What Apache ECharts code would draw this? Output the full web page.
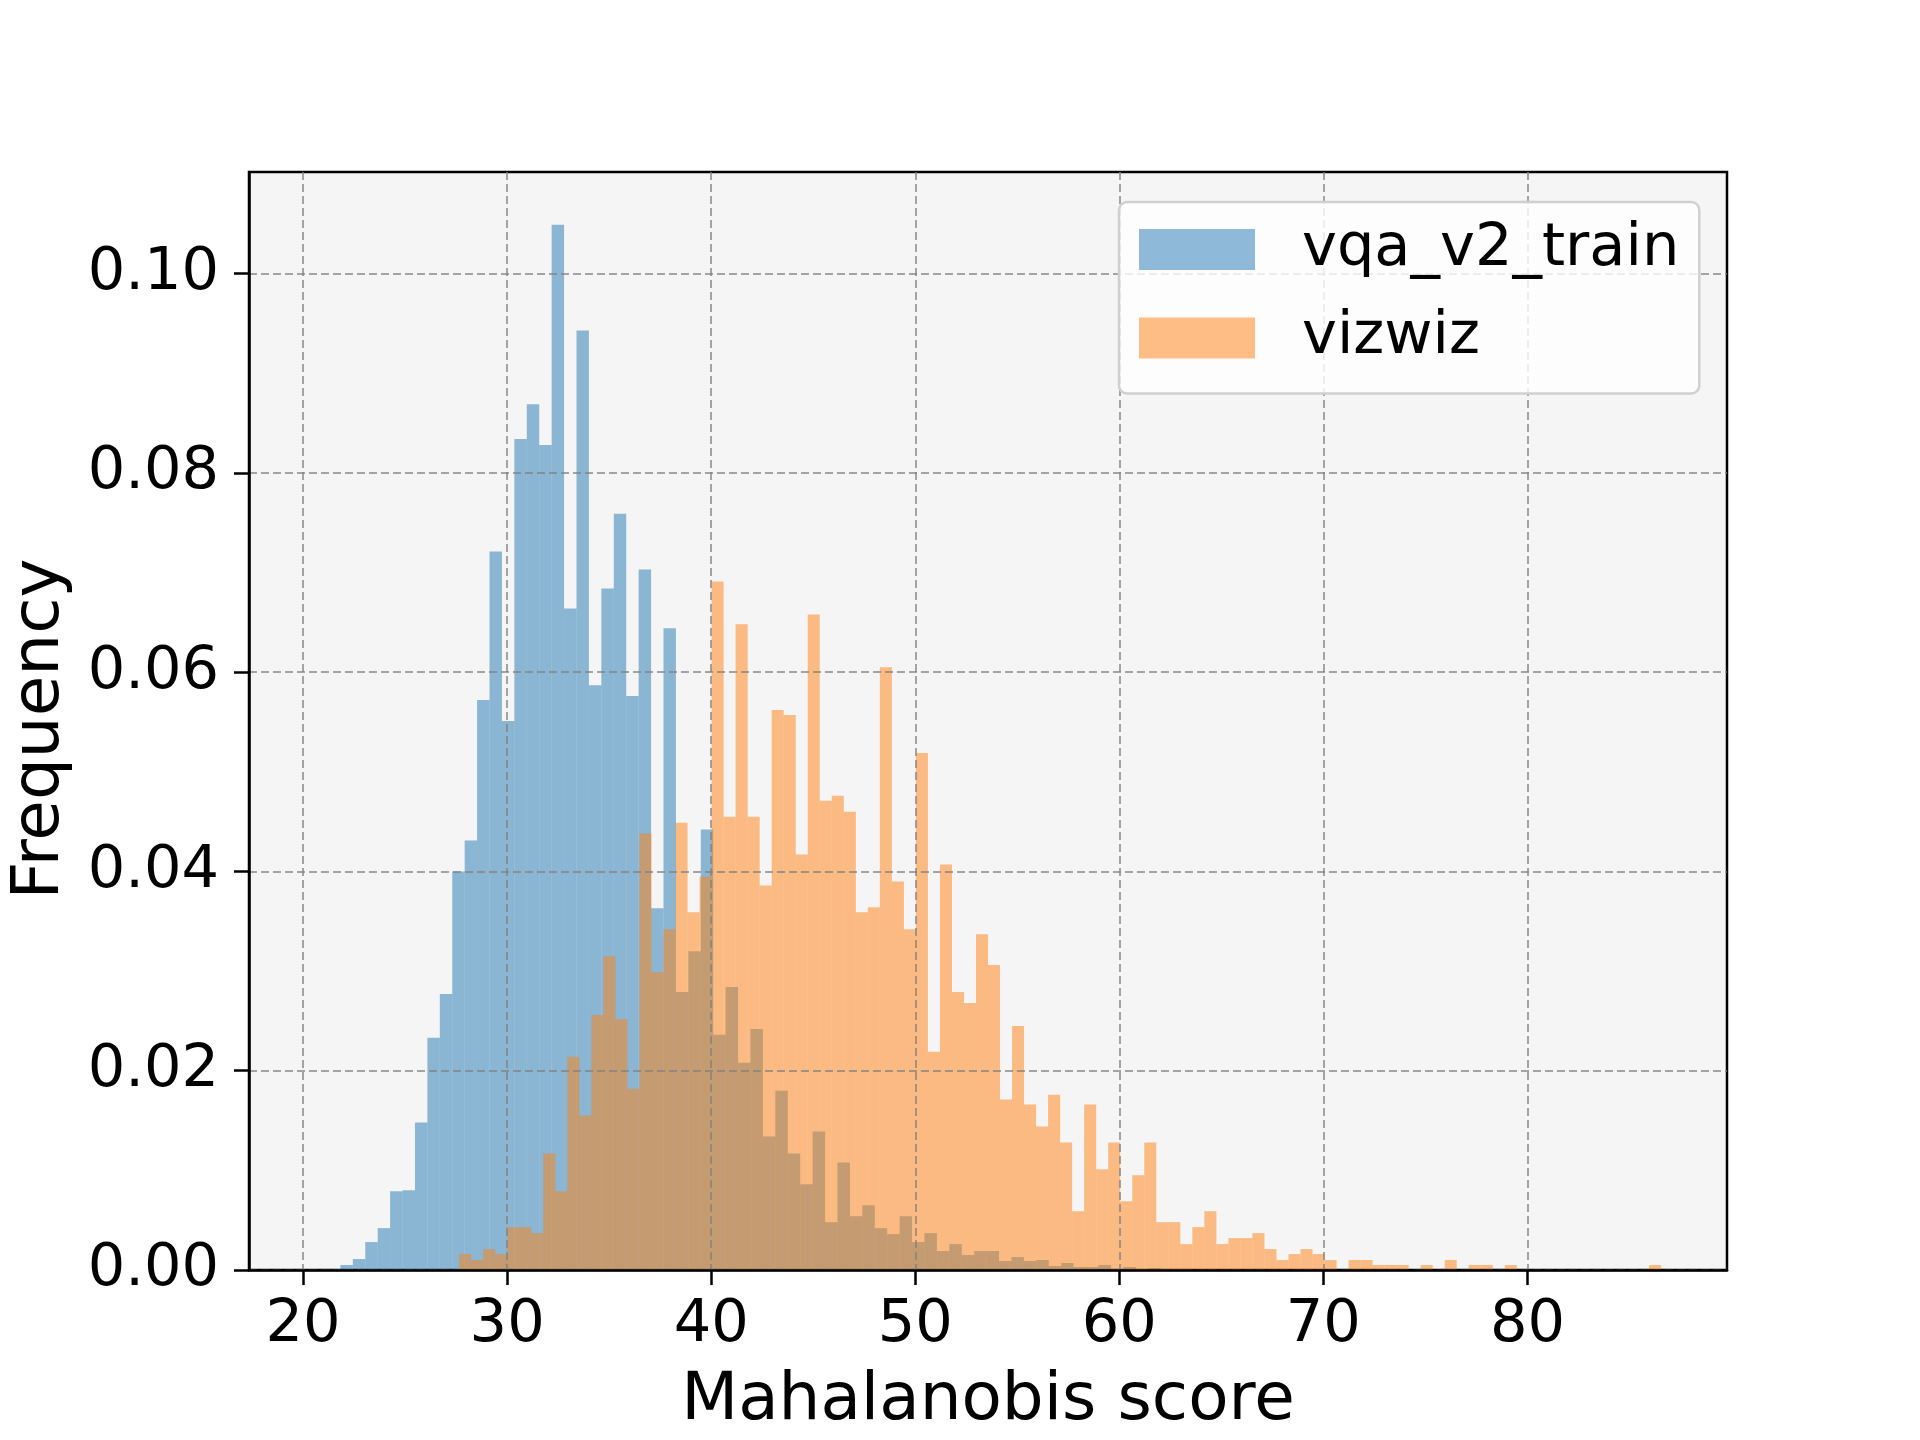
<!DOCTYPE html>
<html>
<head>
<meta charset="utf-8">
<title>Mahalanobis score histogram</title>
<script src="https://cdn.jsdelivr.net/npm/echarts@6/dist/echarts.min.js"></script>
<style>
  html, body { margin: 0; padding: 0; background: #fff; }
  #main { width: 1920px; height: 1440px; }
</style>
</head>
<body>
<div id="main"></div>
<script>
// histogram bins (density, 100 bins each)
var vqaStart = 21.22, vqaWidth = 0.609;
var vqaFreq = [
  0.0001, 0.0005, 0.0011, 0.0028, 0.0042, 0.0079, 0.0080, 0.0148, 0.0233, 0.0277,
  0.0400, 0.0431, 0.0572, 0.0721, 0.0551, 0.0834, 0.0869, 0.0828, 0.1049, 0.0664,
  0.0943, 0.0587, 0.0684, 0.0759, 0.0576, 0.0703, 0.0363, 0.0644, 0.0279, 0.0320,
  0.0442, 0.0236, 0.0284, 0.0208, 0.0242, 0.0134, 0.0180, 0.0117, 0.0086, 0.0139,
  0.0048, 0.0108, 0.0054, 0.0065, 0.0042, 0.0036, 0.0054, 0.0028, 0.0037, 0.0019,
  0.0026, 0.0015, 0.0019, 0.0019, 0.0009, 0.0013, 0.0009, 0.0010, 0.0004, 0.0007,
  0.0003, 0.0003, 0.0005, 0.0001, 0.0003, 0.0001, 0.0002, 0.0001, 0.0001, 0,
  0, 0, 0, 0, 0, 0, 0, 0, 0, 0,
  0, 0, 0, 0, 0, 0, 0, 0, 0, 0,
  0, 0, 0, 0, 0, 0, 0, 0, 0, 0
];

var vizStart = 27.65, vizWidth = 0.589;
var vizFreq = [
  0.0016, 0.0010, 0.0021, 0.0016, 0.0043, 0.0043, 0.0037, 0.0117, 0.0079, 0.0214,
  0.0155, 0.0256, 0.0315, 0.0252, 0.0182, 0.0438, 0.0299, 0.0342, 0.0449, 0.0359,
  0.0395, 0.0691, 0.0455, 0.0648, 0.0455, 0.0386, 0.0562, 0.0557, 0.0417, 0.0658,
  0.0471, 0.0476, 0.0460, 0.0359, 0.0364, 0.0605, 0.0390, 0.0342, 0.0519, 0.0219,
  0.0407, 0.0279, 0.0268, 0.0337, 0.0306, 0.0171, 0.0245, 0.0166, 0.0144, 0.0176,
  0.0128, 0.0059, 0.0166, 0.0101, 0.0128, 0.0069, 0.0095, 0.0128, 0.0048, 0.0048,
  0.0026, 0.0043, 0.0059, 0.0026, 0.0032, 0.0032, 0.0037, 0.0021, 0.0010, 0.0016,
  0.0021, 0.0016, 0.0010, 0, 0.0010, 0.0010, 0.0005, 0.0005, 0.0005, 0,
  0.0005, 0, 0.0010, 0, 0.0005, 0.0005, 0, 0.0005, 0, 0,
  0, 0, 0, 0, 0, 0, 0, 0, 0, 0.0005
];

var xTicks = [20, 30, 40, 50, 60, 70, 80];
var yTicks = [0, 0.02, 0.04, 0.06, 0.08, 0.10];
var seriesNames = ['vqa_v2_train', 'vizwiz'];

function toBins(start, width, freq) {
  var out = [];
  for (var i = 0; i < freq.length; i++) {
    out.push([start + i * width, start + (i + 1) * width, freq[i]]);
  }
  return out;
}

function renderBin(params, api) {
  var p0 = api.coord([api.value(0), api.value(2)]);
  var p1 = api.coord([api.value(1), 0]);
  return {
    type: 'rect',
    shape: { x: p0[0], y: p0[1], width: p1[0] - p0[0], height: p1[1] - p0[1] },
    style: api.style()
  };
}

var font = 'DejaVu Sans';
var gridLine = { show: true, lineStyle: { color: 'rgba(128,128,128,0.7)', width: 2, type: [8, 4] } };
var chart = echarts.init(document.getElementById('main'));

chart.setOption({
  animation: false,
  backgroundColor: '#ffffff',
  grid: {
    left: 240, top: 172, width: 1487, height: 1109,
    show: true,
    backgroundColor: '#f5f5f5',
    borderColor: '#000',
    borderWidth: 2.5
  },
  legend: {
    orient: 'vertical',
    left: 1119, top: 202,
    z: 20,
    padding: [18, 20, 26, 20],
    itemGap: 29.5,
    itemWidth: 116, itemHeight: 41,
    backgroundColor: 'rgba(255,255,255,0.8)',
    borderColor: '#d0d0d0',
    borderWidth: 2.5,
    borderRadius: 8,
    textStyle: { fontFamily: font, fontSize: 59, color: '#000', padding: [0, 0, 0, 42] },
    data: [
      { name: seriesNames[0], icon: 'rect', itemStyle: { color: '#8eb9d8', opacity: 1 } },
      { name: seriesNames[1], icon: 'rect', itemStyle: { color: '#fdbd85', opacity: 1 } }
    ]
  },
  xAxis: {
    type: 'value',
    min: 17.35, max: 89.78,
    z: 10,
    name: 'Mahalanobis score',
    nameLocation: 'middle',
    nameGap: 99,
    nameTextStyle: { fontFamily: font, fontSize: 66, color: '#000' },
    axisLine: { show: true, onZero: false, lineStyle: { color: '#000', width: 2.5 } },
    axisTick: { show: true, customValues: xTicks, length: 15, lineStyle: { color: '#000', width: 2.5 } },
    axisLabel: { customValues: xTicks, margin: 26, fontFamily: font, fontSize: 59, color: '#000' },
    splitLine: gridLine
  },
  yAxis: {
    type: 'value',
    min: 0, max: 0.1102,
    z: 10,
    name: 'Frequency',
    nameLocation: 'middle',
    nameGap: 175,
    nameTextStyle: { fontFamily: font, fontSize: 66, color: '#000', padding: [0, 16, 0, 0] },
    axisLine: { show: true, lineStyle: { color: '#000', width: 2.5 } },
    axisTick: { show: true, customValues: yTicks, length: 15, lineStyle: { color: '#000', width: 2.5 } },
    axisLabel: {
      customValues: yTicks,
      margin: 30, fontFamily: font, fontSize: 59, color: '#000',
      formatter: function (v) { return v.toFixed(2); }
    },
    splitLine: gridLine
  },
  series: [
    {
      name: seriesNames[0],
      type: 'custom',
      renderItem: renderBin,
      encode: { x: [0, 1], y: 2 },
      itemStyle: { color: '#1f77b4', opacity: 0.5 },
      data: toBins(vqaStart, vqaWidth, vqaFreq)
    },
    {
      name: seriesNames[1],
      type: 'custom',
      renderItem: renderBin,
      encode: { x: [0, 1], y: 2 },
      itemStyle: { color: '#ff7f0e', opacity: 0.5 },
      data: toBins(vizStart, vizWidth, vizFreq)
    }
  ]
});
</script>
</body>
</html>
